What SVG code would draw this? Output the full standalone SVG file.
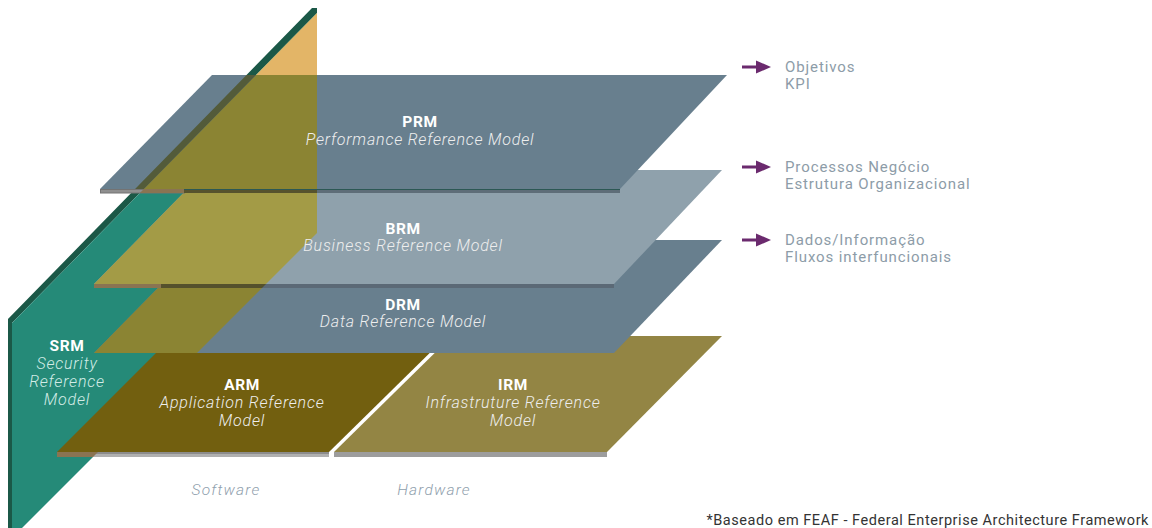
<svg xmlns="http://www.w3.org/2000/svg" xmlns:xlink="http://www.w3.org/1999/xlink" width="1152" height="528" viewBox="0 0 1152 528">
<style>
  .acr{font-family:Roboto,"Liberation Sans",sans-serif;font-weight:700;font-size:15.5px;fill:#ffffff;text-anchor:middle;letter-spacing:0.6px}
  .sub{font-family:Roboto,"Liberation Sans",sans-serif;font-style:italic;font-weight:300;font-size:16px;fill:#eeeeee;text-anchor:middle;letter-spacing:0.8px}
  .srmsub{fill:#d2ece6}
  .axis{font-family:Roboto,"Liberation Sans",sans-serif;font-style:italic;font-weight:300;font-size:15.5px;fill:#8fa0ad;text-anchor:middle;letter-spacing:1.2px}
  .note{font-family:Roboto,"Liberation Sans",sans-serif;font-weight:400;font-size:15px;fill:#8d9ca8;letter-spacing:0.9px}
  .foot{font-family:Roboto,"Liberation Sans",sans-serif;font-weight:400;font-size:14.5px;fill:#333333;text-anchor:end;letter-spacing:0.55px}
  .blue{fill:#687f8e}
  .lblue{fill:#8fa1ac}
  .olive{fill:#8b8433}
  .lolive{fill:#a39b46}
  .arrow{fill:#6b2a6e}
</style>
<defs>
  <clipPath id="panelClip"><polygon points="12,323 317,13 317,233 12,538"/></clipPath>
  <clipPath id="prmClip"><polygon points="212,75 727,75 620,189 100,189"/></clipPath>
  <polygon id="prmShape" points="212,75 727,75 620,189 100,189"/>
  <polygon id="brmShape" points="206,170 722,170 614,284 94,284"/>
  <polygon id="drmShape" points="205,240 722,240 614,353 94,353"/>
</defs>

<!-- SRM vertical panel (base) -->
<g id="srm">
  <polygon points="8,528 8,319 312,8 317,8 317,13 12,323 12,528" fill="#1b5847"/>
  <polygon points="12,323 317,13 317,233 12,538" fill="#258a78"/>
  <polygon points="317,13 317,75 256,75" fill="#e3b567"/>
</g>

<!-- IRM -->
<g id="irm">
  <polygon points="452,336 722,336 607,452 334,452" fill="#938544"/>
  <rect x="334" y="452" width="273" height="5" fill="#9d9d9d"/>
  <text class="acr" x="513" y="390">IRM</text>
  <text class="sub" x="513" y="408">Infrastruture Reference</text>
  <text class="sub" x="513" y="426">Model</text>
</g>

<!-- ARM -->
<g id="arm">
  <polygon points="173,336 447,336 329,452 57,452" fill="#725f0f"/>
  <rect x="57" y="452" width="272" height="2" fill="#8c8c8c"/>
  <rect x="57" y="454" width="272" height="3" fill="#b0b0b0"/>
  <g clip-path="url(#panelClip)">
    <rect x="57" y="452" width="60" height="5" fill="#8a7452"/>
  </g>
  <text class="acr" x="242" y="390">ARM</text>
  <text class="sub" x="242" y="408">Application Reference</text>
  <text class="sub" x="242" y="426">Model</text>
</g>

<!-- DRM -->
<g id="drm">
  <use xlink:href="#drmShape" class="blue"/>
  <g clip-path="url(#panelClip)"><use xlink:href="#drmShape" class="olive"/></g>
  <text class="acr" x="403" y="310">DRM</text>
  <text class="sub" x="403" y="327">Data Reference Model</text>
</g>

<!-- BRM -->
<g id="brm">
  <use xlink:href="#brmShape" class="lblue"/>
  <g clip-path="url(#panelClip)"><use xlink:href="#brmShape" class="lolive"/></g>
  <rect x="94" y="284" width="520" height="4" fill="#5b6976"/>
  <g clip-path="url(#panelClip)">
    <rect x="94" y="284" width="67" height="4" fill="#8a7452"/>
    <rect x="161" y="284" width="110" height="4" fill="#55512c"/>
  </g>
  <text class="acr" x="403" y="234">BRM</text>
  <text class="sub" x="403" y="251">Business Reference Model</text>
</g>

<!-- PRM -->
<g id="prm">
  <use xlink:href="#prmShape" class="blue"/>
  <g clip-path="url(#panelClip)"><use xlink:href="#prmShape" class="olive"/></g>
  <g clip-path="url(#prmClip)">
    <polygon points="8,528 8,319 312,8 317,8 317,13 12,323 12,528" fill="#535b3a"/>
  </g>
  <rect x="100" y="189" width="520" height="4" fill="#5e6d78"/>
  <rect x="100.5" y="189.5" width="84" height="3.5" fill="#8f8f8f" stroke="#737373" stroke-width="1"/>
  <g clip-path="url(#panelClip)">
    <rect x="100" y="189" width="84" height="4" fill="#8a7452"/>
    <rect x="184" y="189" width="140" height="4" fill="#57532d"/>
  </g>
  <rect x="184" y="189" width="436" height="1" fill="#2c5854"/>
  <text class="acr" x="420" y="127">PRM</text>
  <text class="sub" x="420" y="145">Performance Reference Model</text>
</g>

<!-- SRM labels -->
<g id="srm-labels">
  <text class="acr" x="67" y="351">SRM</text>
  <text class="sub srmsub" x="67" y="369">Security</text>
  <text class="sub srmsub" x="67" y="387">Reference</text>
  <text class="sub srmsub" x="67" y="405">Model</text>
</g>

<!-- connectors -->
<g id="connectors">
  <rect x="742" y="65.5" width="16" height="3" class="arrow"/>
  <polygon points="756,60.5 771,67 756,73.5" class="arrow"/>
  <rect x="742" y="165.5" width="16" height="3" class="arrow"/>
  <polygon points="756,160.5 771,167 756,173.5" class="arrow"/>
  <rect x="742" y="238.5" width="16" height="3" class="arrow"/>
  <polygon points="756,233.5 771,240 756,246.5" class="arrow"/>
</g>

<g id="notes">
  <text class="note" x="785" y="72">Objetivos</text>
  <text class="note" x="785" y="89">KPI</text>
  <text class="note" x="785" y="172">Processos Negócio</text>
  <text class="note" x="785" y="189">Estrutura Organizacional</text>
  <text class="note" x="785" y="245">Dados/Informação</text>
  <text class="note" x="785" y="262">Fluxos interfuncionais</text>
</g>

<g id="axis">
  <text class="axis" x="226" y="495">Software</text>
  <text class="axis" x="434" y="495">Hardware</text>
</g>

<text class="foot" x="1149" y="525">*Baseado em FEAF - Federal Enterprise Architecture Framework</text>
</svg>
